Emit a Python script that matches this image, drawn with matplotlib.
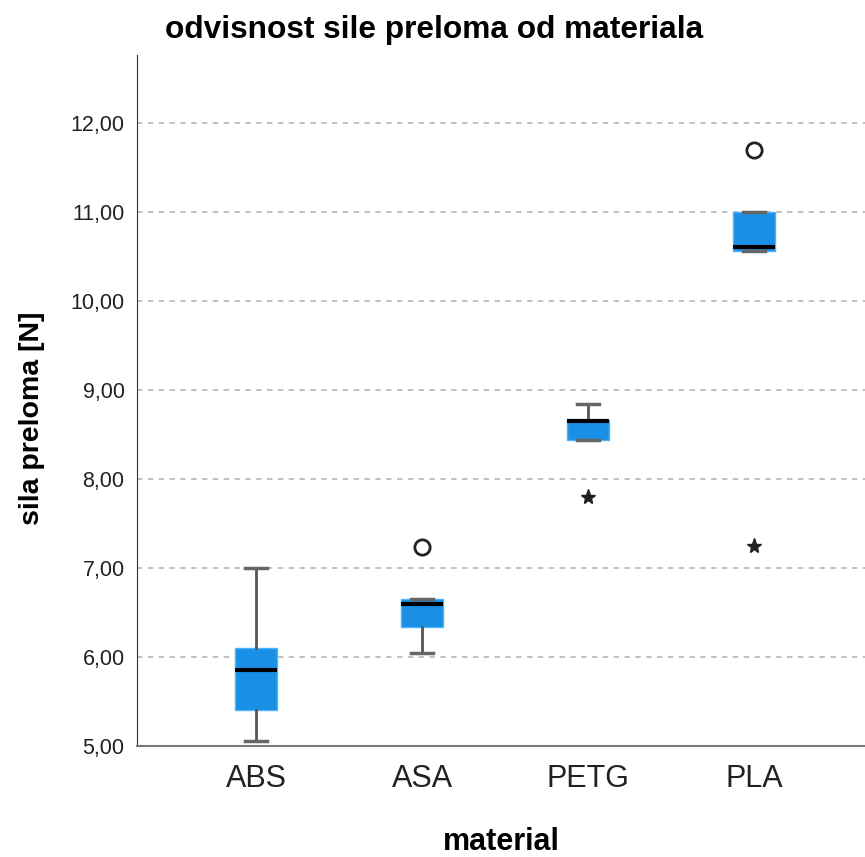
import matplotlib.pyplot as plt

# Box statistics
materials = ['ABS', 'ASA', 'PETG', 'PLA']
whisker_low = [5.06, 6.05, 8.44, 10.56]
q1 = [5.40, 6.34, 8.44, 10.56]
median = [5.85, 6.60, 8.65, 10.60]
q3 = [6.10, 6.65, 8.66, 11.00]
whisker_high = [7.00, 6.65, 8.84, 11.00]
outliers = [[], [7.24], [], [11.69]]          # circles
extremes = [[], [], [7.80], [7.25]]           # stars

yticks = [5, 6, 7, 8, 9, 10, 11, 12]
ytick_labels = [f'{v:.2f}'.replace('.', ',') for v in yticks]

plt.rcParams['font.family'] = ['Liberation Sans', 'DejaVu Sans']

fig = plt.figure(figsize=(8.65, 8.57), dpi=100)
ax = fig.add_axes([0.1584, 0.1295, 0.8416, 0.8063])

stats = []
for i, m in enumerate(materials):
    stats.append(dict(label=m, whislo=whisker_low[i], q1=q1[i], med=median[i],
                      q3=q3[i], whishi=whisker_high[i], fliers=[]))

positions = list(range(1, len(materials) + 1))
ax.bxp(stats, positions=positions, widths=0.25, patch_artist=True,
       showfliers=False,
       boxprops=dict(facecolor='#1a8fe6', edgecolor='#4db3ff', linewidth=1),
       medianprops=dict(color='black', linewidth=3),
       whiskerprops=dict(color='#555555', linewidth=2),
       capprops=dict(color='#666666', linewidth=2.5),
       capwidths=0.25 * 0.55, zorder=3)

for i, p in enumerate(positions):
    if outliers[i]:
        ax.plot([p] * len(outliers[i]), outliers[i], 'o', ms=11,
                mfc='none', mec='#222222', mew=2, zorder=4)
    if extremes[i]:
        ax.plot([p] * len(extremes[i]), extremes[i], '*', ms=11,
                color='#222222', zorder=4)

ax.set_xlim(0.283, 4.669)
ax.set_ylim(5.0, 12.76)
ax.set_yticks(yticks)
ax.set_yticklabels(ytick_labels, fontsize=15.5, color='#222222')
ax.set_xticks(positions)
ax.set_xticklabels(materials, fontsize=22, color='#222222')
ax.tick_params(axis='x', length=0, pad=13)
ax.tick_params(axis='y', length=0, pad=9)

ax.grid(axis='y', linestyle=(0, (3, 3)), color='#bbbbbb', linewidth=1.3, zorder=0)
ax.set_axisbelow(True)

for s in ['top', 'right']:
    ax.spines[s].set_visible(False)
ax.spines['left'].set_color('#333333')
ax.spines['bottom'].set_color('#777777')
ax.spines['bottom'].set_linewidth(1.5)

ax.set_ylabel('sila preloma [N]', fontsize=20.5, fontweight='bold')
ax.yaxis.set_label_coords(-0.127, 0.475)
ax.set_xlabel('material', fontsize=22, fontweight='bold')
ax.xaxis.set_label_coords(0.5, -0.117)
fig.text(0.191, 0.965, 'odvisnost sile preloma od materiala', fontsize=22.8,
         fontweight='bold', va='center', ha='left')

fig.savefig('out.png', dpi=100)
